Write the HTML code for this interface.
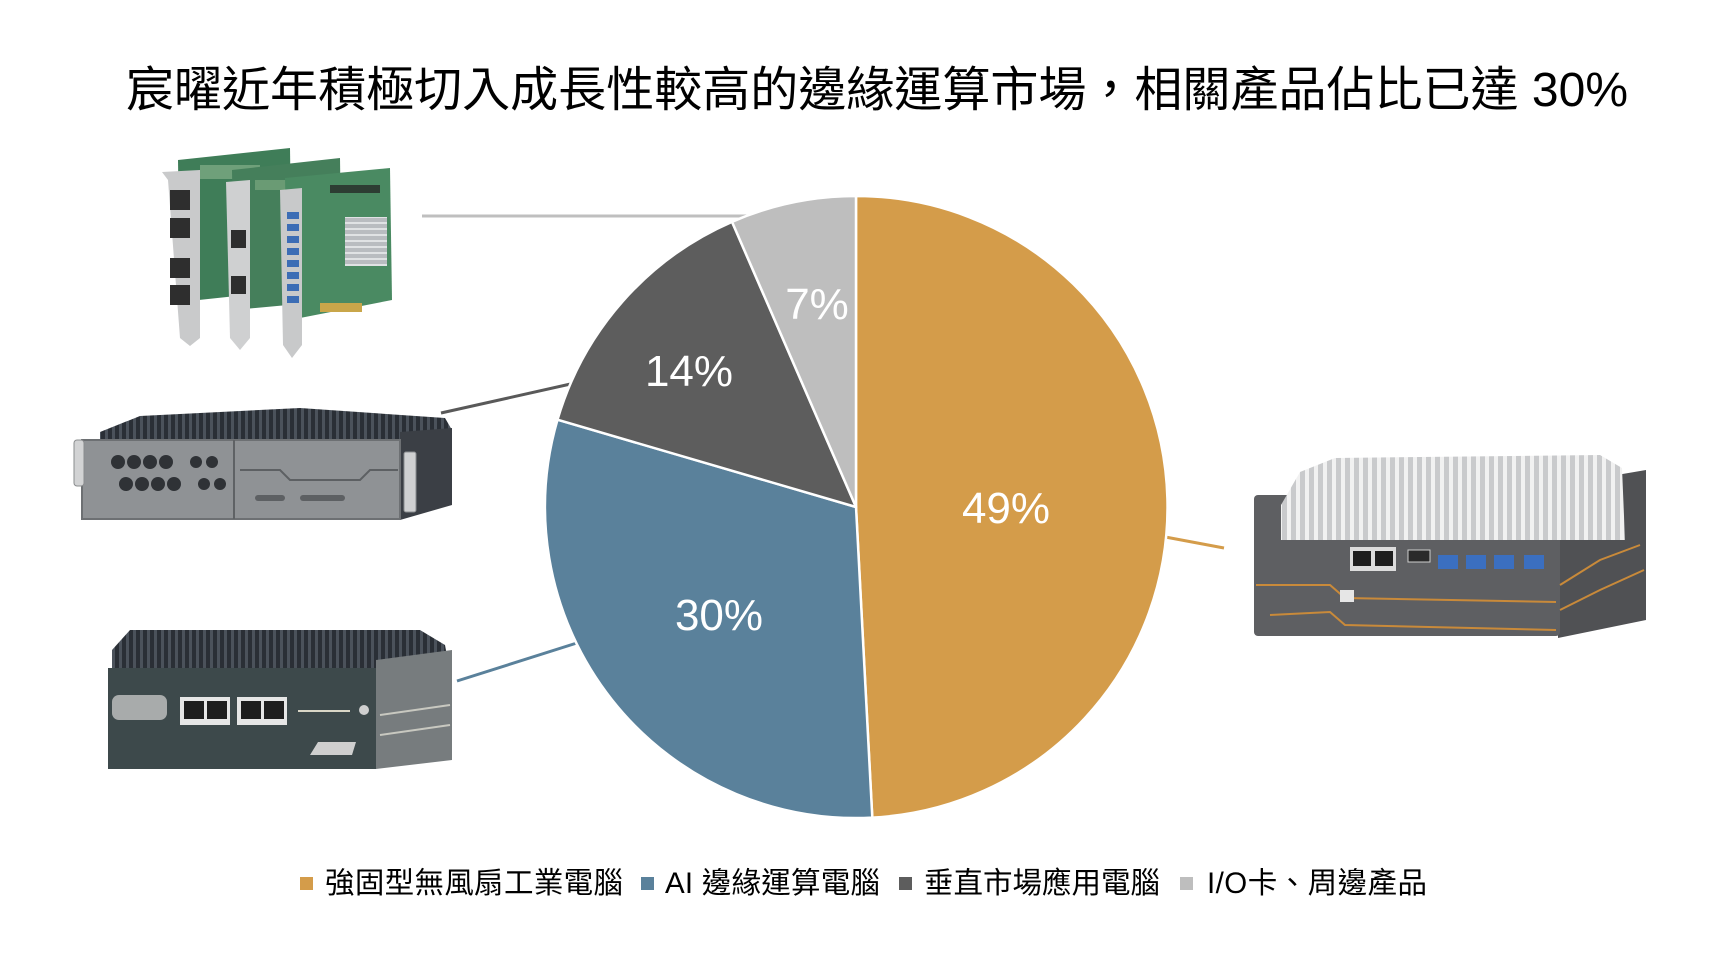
<!DOCTYPE html>
<html>
<head>
<meta charset="utf-8">
<style>
  html,body{margin:0;padding:0;background:#fff;}
  svg{display:block;}
  .t{font-family:"Liberation Sans","Noto Sans CJK TC","Noto Sans CJK SC",sans-serif;}
</style>
</head>
<body>
<svg width="1730" height="968" viewBox="0 0 1730 968" xmlns="http://www.w3.org/2000/svg">
  <defs>
    <pattern id="darkfin" width="7" height="20" patternUnits="userSpaceOnUse">
      <rect width="7" height="20" fill="#2a2f36"/>
      <rect width="3" height="20" fill="#4b525b"/>
    </pattern>
    <pattern id="lightfin" width="9" height="20" patternUnits="userSpaceOnUse">
      <rect width="9" height="20" fill="#c9cacc"/>
      <rect width="4" height="20" fill="#f1f1f1"/>
    </pattern>
    <pattern id="heat" width="5" height="6" patternUnits="userSpaceOnUse">
      <rect width="5" height="6" fill="#b9bcc0"/>
      <rect width="5" height="2" fill="#e0e2e4"/>
    </pattern>
  </defs>

  <rect width="1730" height="968" fill="#fff"/>

  <!-- Title -->
  <text class="t" x="126" y="106" font-size="48" fill="#000" textLength="1502" lengthAdjust="spacing">宸曜近年積極切入成長性較高的邊緣運算市場，相關產品佔比已達 30%</text>

  <!-- Connector lines -->
  <line x1="422" y1="216" x2="752" y2="216" stroke="#bfbfbf" stroke-width="3"/>
  <line x1="441" y1="413" x2="575" y2="383" stroke="#595959" stroke-width="3"/>
  <line x1="457" y1="681" x2="580" y2="642" stroke="#5a819b" stroke-width="3"/>
  <line x1="1160" y1="536" x2="1224" y2="548" stroke="#d49c4a" stroke-width="3"/>

  <!-- Pie -->
  <g stroke="#fff" stroke-width="2.5" stroke-linejoin="round">
    <path d="M856,507 L856,196 A311,311 0 0,1 872.3,817.6 Z" fill="#d49c4a"/>
    <path d="M856,507 L872.3,817.6 A311,311 0 0,1 557.5,419.7 Z" fill="#5a819b"/>
    <path d="M856,507 L557.5,419.7 A311,311 0 0,1 732.0,221.8 Z" fill="#5d5d5d"/>
    <path d="M856,507 L732.0,221.8 A311,311 0 0,1 856,196 Z" fill="#bebebe"/>
  </g>

  <!-- Pie labels -->
  <g class="t" font-size="44" fill="#fff" text-anchor="middle">
    <text x="1006" y="523">49%</text>
    <text x="719" y="630">30%</text>
    <text x="689" y="386">14%</text>
    <text x="817" y="319">7%</text>
  </g>

  <!-- Image 1: PCIe cards -->
  <g>
    <polygon points="178,160 290,148 292,290 180,302" fill="#3f7d58"/>
    <rect x="200" y="165" width="60" height="14" fill="#6fa07a"/>
    <polygon points="162,172 200,170 200,338 190,346 180,338 168,180" fill="#c9cacb"/>
    <g fill="#2e2e2e">
      <rect x="170" y="190" width="20" height="20"/>
      <rect x="170" y="218" width="20" height="20"/>
      <rect x="170" y="258" width="20" height="20"/>
      <rect x="170" y="285" width="20" height="20"/>
    </g>
    <polygon points="232,170 340,158 342,300 234,310" fill="#457f5b"/>
    <rect x="255" y="180" width="70" height="10" fill="#6a9b74"/>
    <polygon points="226,182 250,180 250,338 240,350 230,338" fill="#cfd0d1"/>
    <g fill="#2e2e2e">
      <rect x="231" y="230" width="15" height="18"/>
      <rect x="231" y="276" width="15" height="18"/>
    </g>
    <polygon points="285,178 390,168 392,300 300,318 288,318" fill="#4a8a62"/>
    <rect x="330" y="185" width="50" height="8" fill="#2d3d33"/>
    <rect x="345" y="217" width="42" height="49" fill="url(#heat)"/>
    <rect x="320" y="303" width="42" height="9" fill="#c9a64a"/>
    <polygon points="280,190 302,188 302,345 292,358 283,345" fill="#c8c9ca"/>
    <g fill="#3c6db5">
      <rect x="287" y="212" width="12" height="7"/>
      <rect x="287" y="224" width="12" height="7"/>
      <rect x="287" y="236" width="12" height="7"/>
      <rect x="287" y="248" width="12" height="7"/>
      <rect x="287" y="260" width="12" height="7"/>
      <rect x="287" y="272" width="12" height="7"/>
      <rect x="287" y="284" width="12" height="7"/>
      <rect x="287" y="296" width="12" height="7"/>
    </g>
  </g>

  <!-- Image 2: rugged 2U device -->
  <g>
    <polygon points="100,432 140,416 300,408 445,418 452,430 452,446 100,446" fill="url(#darkfin)"/>
    <polygon points="400,432 452,428 452,505 400,520" fill="#3b3f45"/>
    <rect x="82" y="440" width="318" height="79" fill="#8f9295"/>
    <rect x="82" y="440" width="318" height="79" fill="none" stroke="#6d7073" stroke-width="2"/>
    <line x1="234" y1="440" x2="234" y2="519" stroke="#5f6265" stroke-width="2"/>
    <g fill="#2f3236">
      <circle cx="118" cy="462" r="7"/><circle cx="134" cy="462" r="7"/><circle cx="150" cy="462" r="7"/><circle cx="166" cy="462" r="7"/>
      <circle cx="126" cy="484" r="7"/><circle cx="142" cy="484" r="7"/><circle cx="158" cy="484" r="7"/><circle cx="174" cy="484" r="7"/>
      <circle cx="196" cy="462" r="6"/><circle cx="212" cy="462" r="6"/><circle cx="204" cy="484" r="6"/><circle cx="220" cy="484" r="6"/>
    </g>
    <path d="M240,470 L280,470 L290,480 L360,480 L370,470 L398,470" fill="none" stroke="#5d6063" stroke-width="2"/>
    <rect x="255" y="495" width="30" height="6" rx="3" fill="#5d6063"/>
    <rect x="300" y="495" width="45" height="6" rx="3" fill="#5d6063"/>
    <rect x="74" y="440" width="10" height="46" rx="3" fill="#d2d3d4" stroke="#8a8c8e"/>
    <rect x="404" y="452" width="12" height="60" rx="2" fill="#cfd0d1" stroke="#8a8c8e"/>
  </g>

  <!-- Image 3: compact fanless box -->
  <g>
    <polygon points="112,650 130,630 420,630 445,645 450,672 112,672" fill="url(#darkfin)"/>
    <polygon points="376,660 452,650 452,760 376,769" fill="#777c7e"/>
    <line x1="380" y1="715" x2="450" y2="705" stroke="#c8c8c0" stroke-width="2"/>
    <line x1="380" y1="735" x2="450" y2="725" stroke="#c8c8c0" stroke-width="2"/>
    <rect x="108" y="668" width="268" height="101" fill="#3d494b"/>
    <rect x="112" y="695" width="55" height="25" rx="7" fill="#a8abab"/>
    <rect x="180" y="697" width="50" height="28" fill="#e6e6e6"/>
    <rect x="184" y="701" width="20" height="18" fill="#1e1e1e"/>
    <rect x="207" y="701" width="20" height="18" fill="#1e1e1e"/>
    <rect x="237" y="697" width="50" height="28" fill="#e6e6e6"/>
    <rect x="241" y="701" width="20" height="18" fill="#1e1e1e"/>
    <rect x="264" y="701" width="20" height="18" fill="#1e1e1e"/>
    <line x1="298" y1="711" x2="350" y2="711" stroke="#d9d6c6" stroke-width="2"/>
    <circle cx="364" cy="710" r="5" fill="#cfcfcf"/>
    <polygon points="310,755 318,742 356,742 352,755" fill="#cfcfcf"/>
  </g>

  <!-- Image 4: right device -->
  <g>
    <polygon points="1558,485 1646,470 1646,620 1558,638" fill="#505154"/>
    <rect x="1254" y="495" width="306" height="141" rx="4" fill="#5e5f62"/>
    <polygon points="1281,505 1300,472 1335,458 1600,455 1622,468 1625,540 1281,540" fill="url(#lightfin)"/>
    <rect x="1350" y="547" width="46" height="24" fill="#dcdcdc"/>
    <rect x="1353" y="551" width="18" height="15" fill="#1e1e1e"/>
    <rect x="1375" y="551" width="18" height="15" fill="#1e1e1e"/>
    <rect x="1408" y="550" width="22" height="12" fill="#2a2a2a" stroke="#cfcfcf"/>
    <g fill="#3b6fc0">
      <rect x="1438" y="555" width="20" height="14"/>
      <rect x="1466" y="555" width="20" height="14"/>
      <rect x="1494" y="555" width="20" height="14"/>
      <rect x="1524" y="555" width="20" height="14"/>
    </g>
    <polyline points="1256,585 1330,585 1345,598 1556,602" fill="none" stroke="#c98a3a" stroke-width="2"/>
    <polyline points="1270,615 1330,612 1345,625 1556,630" fill="none" stroke="#c98a3a" stroke-width="2"/>
    <polyline points="1560,585 1600,560 1640,545" fill="none" stroke="#c98a3a" stroke-width="2"/>
    <polyline points="1560,610 1600,590 1644,570" fill="none" stroke="#c98a3a" stroke-width="2"/>
    <rect x="1340" y="590" width="14" height="12" fill="#e6e6e6"/>
  </g>

  <!-- Legend -->
  <g class="t" font-size="29.5" fill="#000">
    <rect x="300" y="877" width="13" height="13" fill="#d49c4a"/>
    <text x="325" y="893" textLength="298" lengthAdjust="spacing">強固型無風扇工業電腦</text>
    <rect x="641" y="877" width="13" height="13" fill="#5a819b"/>
    <text x="665" y="893" textLength="215" lengthAdjust="spacing">AI 邊緣運算電腦</text>
    <rect x="899" y="877" width="13" height="13" fill="#5d5d5d"/>
    <text x="924" y="893" textLength="236" lengthAdjust="spacing">垂直市場應用電腦</text>
    <rect x="1180" y="877" width="13" height="13" fill="#bebebe"/>
    <text x="1207" y="893" textLength="220" lengthAdjust="spacing">I/O卡、周邊產品</text>
  </g>
</svg>
</body>
</html>
